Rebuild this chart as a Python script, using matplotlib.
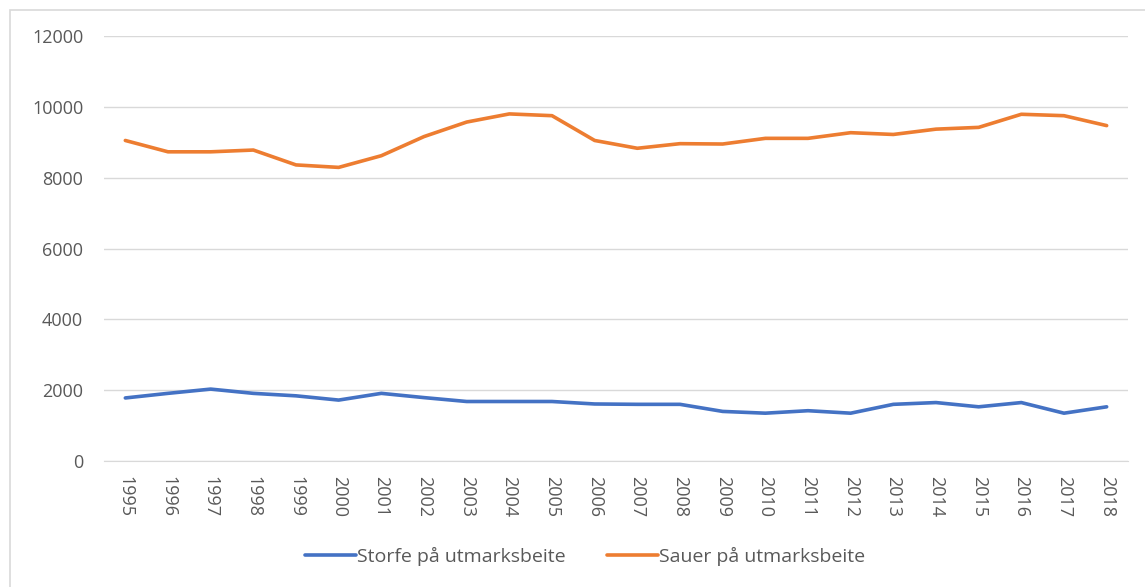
import matplotlib.pyplot as plt
from matplotlib.patches import Rectangle

years = [str(y) for y in range(1995, 2019)]

# Storfe på utmarksbeite
storfe = [1780, 1910, 2030, 1910, 1840, 1720, 1910, 1790, 1680, 1680, 1680, 1610,
          1600, 1600, 1400, 1350, 1420, 1350, 1600, 1650, 1530, 1650, 1350, 1530]

# Sauer på utmarksbeite
sauer = [9050, 8730, 8730, 8780, 8360, 8290, 8620, 9160, 9570, 9800, 9750, 9050,
         8830, 8960, 8950, 9110, 9110, 9270, 9220, 9370, 9420, 9790, 9750, 9470]

W, H = 1145, 587
fig = plt.figure(figsize=(W / 100, H / 100), dpi=100)
plt.rcParams['font.family'] = ['Open Sans', 'DejaVu Sans']

# ramme rundt diagrammet
fig.patches.append(Rectangle((10 / W, -0.1), 1.2, 1 - 10 / H + 0.1, transform=fig.transFigure,
                             fill=False, edgecolor='#D9D9D9', linewidth=1.2))

ax = fig.add_axes([104 / W, 1 - 461 / H, (1128 - 104) / W, (461 - 36) / H])
x = list(range(len(years)))
ax.plot(x, storfe, color='#4472C4', linewidth=2.6, label='Storfe på utmarksbeite', solid_capstyle='round')
ax.plot(x, sauer, color='#ED7D31', linewidth=2.6, label='Sauer på utmarksbeite', solid_capstyle='round')

ax.set_xlim(-0.5, len(years) - 0.5)
ax.set_ylim(0, 12000)
ax.set_yticks(range(0, 12001, 2000))
ax.set_xticks(x)
ax.set_xticklabels(years, rotation=-90)
ax.grid(axis='y', color='#D9D9D9', linewidth=1)
ax.set_axisbelow(True)
for s in ['top', 'right', 'left']:
    ax.spines[s].set_visible(False)
ax.spines['bottom'].set_color('#D9D9D9')
ax.tick_params(axis='both', length=0, labelsize=13, labelcolor='#595959')
ax.tick_params(axis='y', pad=15)
ax.tick_params(axis='x', pad=11)

ax.legend(loc='center', bbox_to_anchor=(0.47, -0.224), ncol=2, frameon=False,
          fontsize=14, labelcolor='#595959', handlelength=2.6, handletextpad=0.1,
          columnspacing=2.1)

fig.savefig('out.png', dpi=100)
